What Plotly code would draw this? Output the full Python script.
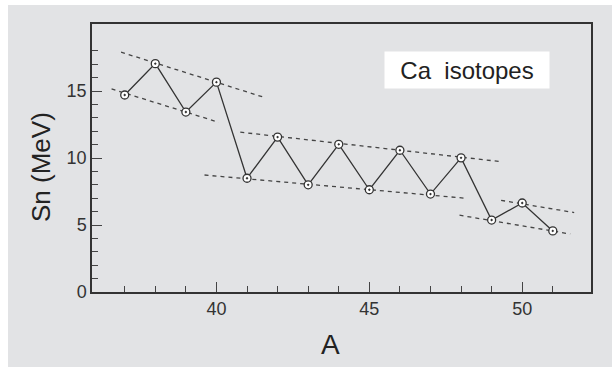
import plotly.graph_objects as go

# Mass number A and one-neutron separation energy Sn (MeV) for Ca isotopes
mass_numbers = [37, 38, 39, 40, 41, 42, 43, 44, 45, 46, 47, 48, 49, 50, 51]
sn_mev = [14.70, 17.04, 13.43, 15.66, 8.49, 11.56, 8.00, 11.02,
          7.63, 10.58, 7.31, 10.01, 5.37, 6.64, 4.56]

# Dashed guide lines (odd/even envelopes) for each shell region: (A start, A end), (Sn start, Sn end)
guide_a = [
    [36.88, 41.54],  # even A, A < 41
    [36.57, 40.07],  # odd A, A < 41
    [40.78, 49.25],  # even A, 41-48
    [39.61, 48.08],  # odd A, 41-48
    [49.31, 51.70],  # even A, A > 48
    [47.95, 51.57],  # odd A, A > 48
]
guide_sn = [
    [17.90, 14.54],
    [15.15, 12.67],
    [11.93, 9.74],
    [8.73, 7.01],
    [6.84, 5.93],
    [5.73, 4.33],
]

x_major = [40, 45, 50]
x_minor = [a for a in range(37, 52) if a not in x_major]
y_major = [0, 5, 10, 15]
y_minor = [v for v in range(1, 19) if v not in y_major]

BG = "#e2e3e5"
INK = "#333333"
FONT = "Liberation Sans, Arial, Helvetica, sans-serif"

fig = go.Figure()

for gx, gy in zip(guide_a, guide_sn):
    fig.add_trace(go.Scatter(
        x=gx, y=gy, mode="lines",
        line=dict(color="#444444", width=1.3, dash="4px,4px"),
        hoverinfo="skip", showlegend=False,
    ))

fig.add_trace(go.Scatter(
    x=mass_numbers, y=sn_mev, mode="lines+markers",
    line=dict(color=INK, width=1.3),
    marker=dict(symbol="circle-dot", size=8, color="white",
                line=dict(color=INK, width=1.3)),
    showlegend=False,
))

# Plot-area geometry in pixels, used to extend the grey panel into the margins
W, H = 612, 367
ml, mr, mt, mb = 92, 21, 24, 75
pw, ph = W - ml - mr, H - mt - mb

fig.add_shape(
    type="rect", xref="paper", yref="paper", layer="below",
    x0=(8 - ml) / pw, x1=(W - ml) / pw,
    y0=-(mb) / ph, y1=1 + (mt - 5) / ph,
    fillcolor=BG, line=dict(width=0),
)

axis_common = dict(
    showline=True, linecolor=INK, linewidth=1.5, mirror=True,
    ticks="inside", ticklen=10, tickwidth=1.3, tickcolor="#444444",
    showgrid=False, zeroline=False,
    tickfont=dict(family=FONT, size=18, color=INK),
)

fig.update_layout(
    width=W, height=H,
    margin=dict(l=ml, r=mr, t=mt, b=mb),
    paper_bgcolor="white", plot_bgcolor=BG,
    font=dict(family=FONT, color=INK),
    xaxis=dict(
        range=[35.93, 52.25], tickmode="array", tickvals=x_major,
        minor=dict(tickmode="array", tickvals=x_minor, ticks="inside",
                   ticklen=6, tickwidth=1.3, tickcolor="#444444"),
        **axis_common,
    ),
    yaxis=dict(
        range=[0, 20], tickmode="array", tickvals=y_major,
        minor=dict(tickmode="array", tickvals=y_minor, ticks="inside",
                   ticklen=6, tickwidth=1.3, tickcolor="#444444"),
        **axis_common,
    ),
    annotations=[
        dict(text="A", xref="paper", yref="paper", x=(330 - ml) / pw, y=-(344 - mt - ph) / ph,
             showarrow=False, font=dict(family=FONT, size=28, color="#222222"),
             xanchor="center", yanchor="middle"),
        dict(text="Sn (MeV)", xref="paper", yref="paper", x=(41 - ml) / pw, y=1 - (167 - mt) / ph,
             showarrow=False, textangle=-90, font=dict(family=FONT, size=26, color="#222222"),
             xanchor="center", yanchor="middle"),
        dict(text="Ca  isotopes", xref="paper", yref="paper",
             x=(467 - ml) / pw, y=1 - (70 - mt) / ph,
             showarrow=False, font=dict(family=FONT, size=24, color="#222222"),
             bgcolor="white", width=160, height=32, borderpad=2,
             xanchor="center", yanchor="middle"),
    ],
)

fig.write_html("out.html")
